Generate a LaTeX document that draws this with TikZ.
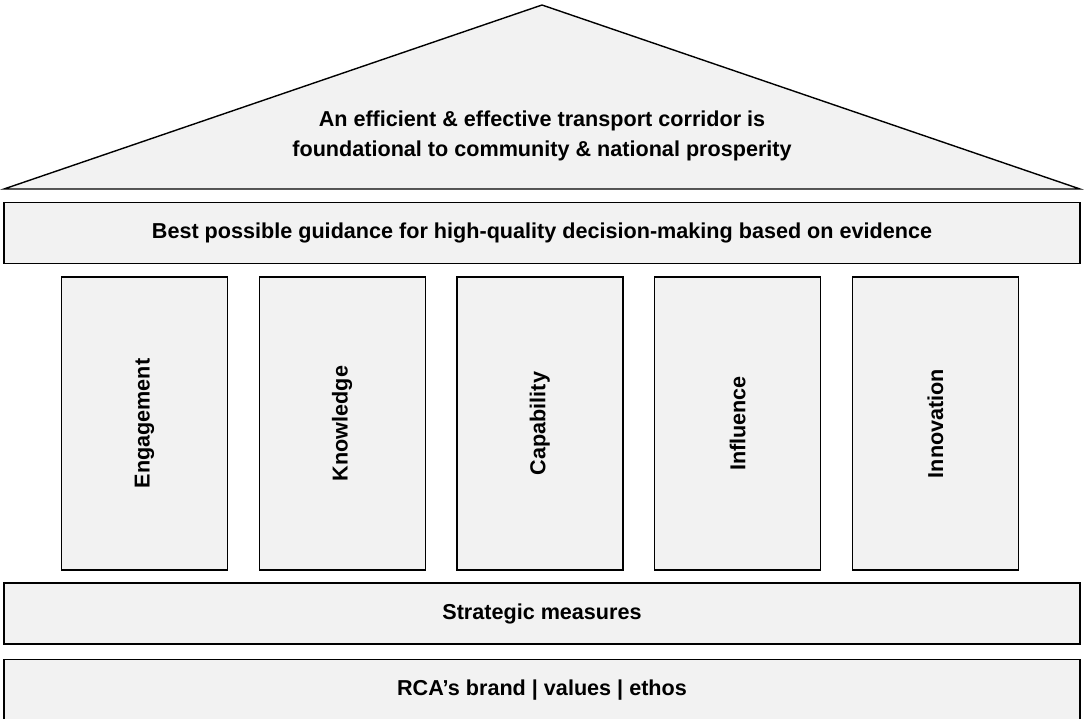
\documentclass[tikz,border=0pt]{standalone}
\usepackage{fontspec}
\setmainfont{Liberation Sans}
\usepackage{tikz}
\usetikzlibrary{positioning}

\begin{document}
\begin{tikzpicture}[x=1pt, y=-1pt, node distance=30.3pt,
    every node/.style={font=\bfseries\fontsize{21.6}{30}\selectfont},
    slab/.style={draw, rectangle, line width=1.4pt, fill=black!5, minimum width=1076pt, minimum height=61pt, inner sep=0pt},
    pillar/.style={draw, rectangle, line width=1.4pt, fill=black!5, minimum width=166pt, minimum height=293pt, inner sep=0pt}]
    \useasboundingbox (0,0) rectangle (1084,719);

    % Roof
    \coordinate (eaveL) at (4,189);
    \coordinate (apex) at (542,5);
    \coordinate (eaveR) at (1080,189);
    \draw[line width=1.4pt, fill=black!5] (eaveL) -- (apex) -- (eaveR) -- cycle;
    \node[align=center] (vision) at (542,135.5) {An efficient \& effective transport corridor is\\foundational to community \& national prosperity};

    % Beam
    \node[slab] (guidance) at (542,233) {Best possible guidance for high-quality decision-making based on evidence};

    % Pillars
    \node[pillar] (engagement) at (144.5,423.5) {\rotatebox{90}{Engagement}};
    \node[pillar, right=of engagement] (knowledge) {\rotatebox{90}{Knowledge}};
    \node[pillar, right=of knowledge] (capability) {\rotatebox{90}{Capability}};
    \node[pillar, right=of capability] (influence) {\rotatebox{90}{Influence}};
    \node[pillar, right=of influence] (innovation) {\rotatebox{90}{Innovation}};

    % Foundation
    \node[slab] (measures) at (542,613.5) {Strategic measures};
    \node[slab, below=14pt of measures] (brand) {RCA’s brand | values | ethos};
\end{tikzpicture}
\end{document}
